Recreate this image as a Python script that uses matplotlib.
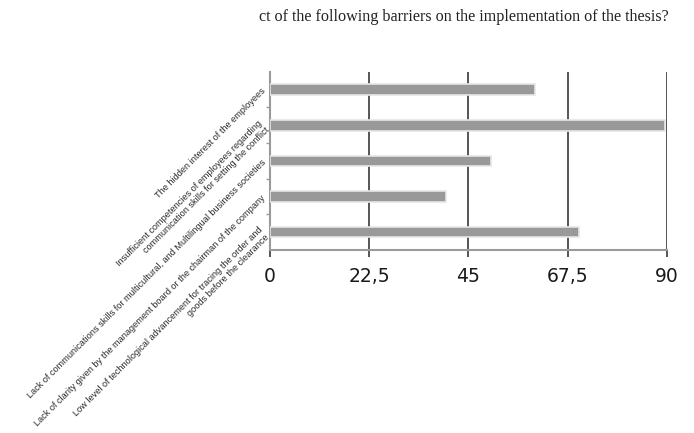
import numpy as np
import matplotlib
matplotlib.use('Agg')
import matplotlib.pyplot as plt

# barriers, listed top to bottom as in the chart
barriers = [
    'The hidden interest of the employees',
    'Insufficient competencies of employees regarding\ncommunication skills for setting the conflict',
    'Lack of communications skills for multicultural, and Multilingual business societies',
    'Lack of clarity given by the management board or the chairman of the company',
    'Low level of technological advancement for tracing the order and\ngoods before the clearance',
]
values = [60, 89.5, 50, 40, 70]
xticks = [0, 22.5, 45, 67.5, 90]
xtick_labels = ['0', '22,5', '45', '67,5', '90']
title = 'ct of the following barriers on the implementation of the thesis?'

fig = plt.figure(figsize=(6.94, 4.33), dpi=100)
ax = fig.add_axes([0.389, 0.423, 0.572, 0.411])

y = np.arange(len(barriers))
ax.barh(y, values, height=0.3, color='#999999', edgecolor='#e6e6e6',
        linewidth=1.2, zorder=3)
ax.set_ylim(len(barriers) - 0.5, -0.5)
ax.set_xlim(0, 90)

# vertical gridlines
ax.grid(axis='x', color='#555555', linewidth=1.4, zorder=1)
ax.set_axisbelow(True)

ax.set_xticks(xticks)
ax.set_xticklabels(xtick_labels, family='DejaVu Sans',
                   fontsize=13.5, color='#1a1a1a')
ax.tick_params(axis='x', length=5, width=1.4, color='#555555', pad=7)

ax.set_yticks(y)
ax.set_yticklabels(barriers, rotation=45, ha='right', va='center',
                   rotation_mode='anchor', fontsize=6.6,
                   family='Liberation Sans', color='#2a2a2a')
ax.tick_params(axis='y', length=0, pad=4)
ax.set_yticks(np.arange(len(barriers) - 1) + 0.5, minor=True)
ax.tick_params(axis='y', which='minor', length=3, width=1, color='#999999')

for s in ['top', 'right']:
    ax.spines[s].set_visible(False)
for s in ['left', 'bottom']:
    ax.spines[s].set_color('#9a9a9a')
    ax.spines[s].set_linewidth(1.5)

fig.text(0.373, 0.96, title, family='Liberation Serif', fontsize=11.6,
         color='#222222', va='center')

fig.savefig('out.png', dpi=100)
